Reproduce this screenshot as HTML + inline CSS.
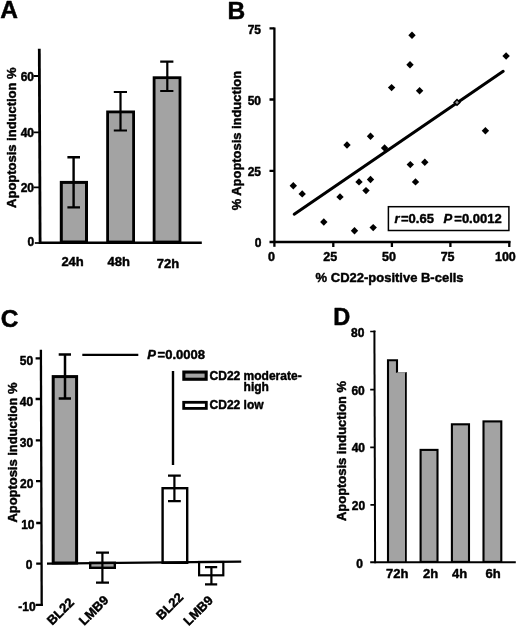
<!DOCTYPE html>
<html><head><meta charset="utf-8"><title>Figure</title>
<style>
html,body{margin:0;padding:0;background:#fff;}
svg{display:block;filter:blur(0.4px);font-family:"Liberation Sans",Arial,sans-serif;font-weight:bold;fill:#000;}
.bar{fill:#a3a3a3;stroke:#000;stroke-width:2.3;}
.wbar{fill:#fff;stroke:#000;stroke-width:2;}
.ax{stroke:#000;stroke-width:2.3;fill:none;stroke-linecap:butt;}
.eb{stroke:#000;stroke-width:2.2;fill:none;}
text{stroke:#000;stroke-width:0.45px;stroke-linejoin:round;}
.t12{font-size:12px;}
.t13{font-size:13px;}
.t125{font-size:12.5px;}
.pl{font-size:24.5px;stroke-width:0.5px;}
</style></head><body>
<svg width="520" height="627" viewBox="0 0 520 627">
<rect width="520" height="627" fill="#fff"/>

<!-- Panel A -->
<text class="pl" x="0.3" y="18.4">A</text>
<g id="pa">
<rect class="bar" x="61.3" y="182.4" width="25.2" height="59.6" style="stroke-width:3"/>
<rect class="bar" x="107.6" y="111.9" width="26" height="130.1" style="stroke-width:2.8"/>
<rect class="bar" x="154.1" y="77.7" width="25.9" height="164.3" style="stroke-width:2.8"/>
<path class="eb" d="M67.4 157.2H80M73.6 157.2V207.4M67.4 207.4H80" style="stroke-width:2.4"/>
<path class="eb" d="M113.8 92H127M120.5 92V130.5M113.8 130.5H127"/>
<path class="eb" d="M160.2 61.7H173.4M167.3 61.7V91M160.2 91H173.4"/>
<path class="ax" d="M39.3 48.7L40.1 244" style="stroke-width:2.8"/>
<path class="ax" d="M39 242.8H201.8" style="stroke-width:2.5"/><path class="ax" d="M34.8 243H40" style="stroke-width:1.7"/>
<path class="ax" d="M33.5 76H39.5M33.5 132.3H39.5M33.5 187.4H39.5" style="stroke-width:1.8"/>
<text class="t12" x="34" y="80.8" text-anchor="end">60</text>
<text class="t12" x="34" y="136.9" text-anchor="end">40</text>
<text class="t12" x="34" y="191.7" text-anchor="end">20</text>
<text class="t12" x="34.2" y="246.3" text-anchor="end">0</text>
<text class="t13" x="72.6" y="266" text-anchor="middle">24h</text>
<text class="t13" x="118.8" y="266.4" text-anchor="middle">48h</text>
<text class="t13" x="167.9" y="267.5" text-anchor="middle">72h</text>
<text class="t13" transform="translate(15.5 207.9) rotate(-90)" textLength="140.5" lengthAdjust="spacingAndGlyphs">Apoptosis induction %</text>
</g>

<!-- Panel B -->
<text class="pl" x="227.6" y="18.8">B</text>
<g id="pb">
<path class="ax" d="M274.4 27.5V246.8"/>
<path class="ax" d="M269.5 242H510.4"/>
<path class="ax" d="M269.5 28.4H274.4M269.5 99.5H274.4M269.5 170.8H274.4"/>
<path class="ax" d="M333.3 241.8V247M391.9 241.8V247M450.4 241.8V247M509.3 241V247"/>
<text class="t12" x="261" y="34" text-anchor="end">75</text>
<text class="t12" x="261" y="105" text-anchor="end">50</text>
<text class="t12" x="261" y="176.3" text-anchor="end">25</text>
<text class="t12" x="261.5" y="247.3" text-anchor="end">0</text>
<text class="t125" x="271.5" y="261.3" text-anchor="middle">0</text>
<text class="t125" x="330.3" y="261.3" text-anchor="middle">25</text>
<text class="t125" x="389" y="261.2" text-anchor="middle">50</text>
<text class="t125" x="447.6" y="260.8" text-anchor="middle">75</text>
<text class="t125" x="505.4" y="260.8" text-anchor="middle">100</text>
<text class="t13" x="315.6" y="282.2" textLength="148" lengthAdjust="spacingAndGlyphs">% CD22-positive B-cells</text>
<text class="t13" transform="translate(240.9 210.3) rotate(-90)" textLength="139.4" lengthAdjust="spacingAndGlyphs">% Apoptosis induction</text>
<path d="M294.2 214.2L503.2 71.3" stroke="#000" stroke-width="3" stroke-linecap="round" fill="none"/>
<g id="pts" fill="#000">
<path id="dm" d="M0 -3.7L3.7 0L0 3.7L-3.7 0Z" transform="translate(293.3 185.7)"/>
<path d="M0 -3.7L3.7 0L0 3.7L-3.7 0Z" transform="translate(302.2 193.9)"/>
<path d="M0 -3.7L3.7 0L0 3.7L-3.7 0Z" transform="translate(323.8 222)"/>
<path d="M0 -3.7L3.7 0L0 3.7L-3.7 0Z" transform="translate(340 196.9)"/>
<path d="M0 -3.7L3.7 0L0 3.7L-3.7 0Z" transform="translate(347 145)"/>
<path d="M0 -3.7L3.7 0L0 3.7L-3.7 0Z" transform="translate(354.5 230.7)"/>
<path d="M0 -3.7L3.7 0L0 3.7L-3.7 0Z" transform="translate(359 181.9)"/>
<path d="M0 -3.7L3.7 0L0 3.7L-3.7 0Z" transform="translate(366 190.6)"/>
<path d="M0 -3.7L3.7 0L0 3.7L-3.7 0Z" transform="translate(370.5 179.5)"/>
<path d="M0 -3.7L3.7 0L0 3.7L-3.7 0Z" transform="translate(370.5 136.3)"/>
<path d="M0 -3.7L3.7 0L0 3.7L-3.7 0Z" transform="translate(373.2 227.6)"/>
<path d="M0 -3.7L3.7 0L0 3.7L-3.7 0Z" transform="translate(384.6 148)"/>
<path d="M0 -3.7L3.7 0L0 3.7L-3.7 0Z" transform="translate(391.6 87.6)"/>
<path d="M0 -3.7L3.7 0L0 3.7L-3.7 0Z" transform="translate(410 64.7)"/>
<path d="M0 -3.7L3.7 0L0 3.7L-3.7 0Z" transform="translate(412 35.3)"/>
<path d="M0 -3.7L3.7 0L0 3.7L-3.7 0Z" transform="translate(410.3 164.6)"/>
<path d="M0 -3.7L3.7 0L0 3.7L-3.7 0Z" transform="translate(415.5 181.9)"/>
<path d="M0 -3.7L3.7 0L0 3.7L-3.7 0Z" transform="translate(419.6 90.7)"/>
<path d="M0 -3.7L3.7 0L0 3.7L-3.7 0Z" transform="translate(424.8 162.2)"/>
<path d="M0 -3.7L3.7 0L0 3.7L-3.7 0Z" transform="translate(485.4 130.7)"/>
<path d="M0 -3.7L3.7 0L0 3.7L-3.7 0Z" transform="translate(506.1 56)"/>
</g>
<path d="M0 -2.9L2.9 0L0 2.9L-2.9 0Z" transform="translate(457 102.4)" fill="#999" stroke="#000" stroke-width="1.5"/>
<rect x="388.4" y="206.7" width="120.5" height="23.8" fill="#fff" stroke="#000" stroke-width="1.5"/>
<text class="t13" x="394.6" y="222.7" font-style="italic">r</text>
<text class="t13" x="401" y="222.7">=0.65</text>
<text class="t13" x="443.6" y="222.7" font-style="italic">P</text>
<text class="t13" x="454.3" y="222.7">=0.0012</text>
</g>

<!-- Panel C -->
<text class="pl" x="0.8" y="327.2">C</text>
<g id="pc">
<rect class="bar" x="53.2" y="376.6" width="23.4" height="186.4" style="stroke-width:3"/>
<rect class="bar" x="90.2" y="562.8" width="24.6" height="5" style="stroke-width:2.4"/>
<rect class="wbar" x="162.6" y="488.2" width="24.6" height="74.6" style="stroke-width:2.4"/>
<rect class="wbar" x="199.1" y="562" width="24.2" height="13.3" style="stroke-width:2.2"/>
<path class="ax" d="M40.9 349.8L41.7 606"/>
<path class="ax" d="M36.2 563.7H42M47 563.6L241.2 561.6"/>
<path class="ax" d="M35.6 358.3H41M35.6 399H41M35.8 440.4H41M36 481.2H41.3M36.2 523H41.5M35.6 604.9H42.8"/>
<path class="eb" d="M58.7 354.4H71M65 354.4V398.5M58.7 398.5H71" style="stroke-width:2.5"/>
<path class="eb" d="M96 552.6H109M102.4 552.6V582.6M96 582.6H109"/>
<path class="eb" d="M168 475.6H180.8M174.4 475.6V501.2M168 501.2H180.8"/>
<path class="eb" d="M205 567.2H217.2M211.4 567.2V584.4M205 584.4H217.2"/>
<path class="eb" d="M82.3 354.9H138.3" style="stroke-width:2.4"/>
<path class="eb" d="M173 371V465" style="stroke-width:2.4"/>
<text class="t12" x="33.2" y="364.5" text-anchor="end">50</text>
<text class="t12" x="33.2" y="405.8" text-anchor="end">40</text>
<text class="t12" x="33.2" y="447" text-anchor="end">30</text>
<text class="t12" x="33.4" y="487.6" text-anchor="end">20</text>
<text class="t12" x="34.5" y="529.2" text-anchor="end">10</text>
<text class="t12" x="32.4" y="569.4" text-anchor="end">0</text>
<text class="t12" x="35.6" y="611" text-anchor="end">-10</text>
<text class="t13" transform="translate(17.1 522.6) rotate(-90)" textLength="140.1" lengthAdjust="spacingAndGlyphs">Apoptosis induction %</text>
<text class="t13" x="147.3" y="358.8" font-style="italic">P</text>
<text class="t13" x="157.6" y="358.8">=0.0008</text>
<rect x="183.85" y="372.05" width="22.3" height="7.2" fill="#a3a3a3" stroke="#000" stroke-width="3.1"/>
<rect x="183.7" y="402.3" width="22.6" height="6.1" fill="#fff" stroke="#000" stroke-width="2.8"/>
<text class="t12" x="209.6" y="379.5">CD22 moderate-</text>
<text class="t12" x="243.6" y="391.2">high</text>
<text class="t12" x="209.6" y="408.7">CD22 low</text>
<text class="t13" transform="translate(52.3 625.8) rotate(-45)">BL22</text>
<text class="t13" transform="translate(84.3 626) rotate(-45)">LMB9</text>
<text class="t13" transform="translate(161.6 620.6) rotate(-45)">BL22</text>
<text class="t13" transform="translate(188.8 626.2) rotate(-45)">LMB9</text>
</g>

<!-- Panel D -->
<text class="pl" x="333.3" y="325.3" style="font-size:23.5px">D</text>
<g id="pd">
<path d="M388 563V360.2H397V372.5H405.8V563Z" fill="#a3a3a3" stroke="none"/>
<path d="M388 563V360.2H397V372.8" class="ax" style="stroke-width:2.1"/>
<path d="M405.9 372V563" class="ax" style="stroke-width:1.8"/>
<path d="M397 372.6H406.6" stroke="#777" stroke-width="0.8" fill="none"/>
<rect class="bar" x="420.6" y="449.9" width="16.9" height="112" style="stroke-width:2.1"/>
<rect class="bar" x="451.9" y="424.3" width="17.1" height="137.6" style="stroke-width:2.1"/>
<rect class="bar" x="483.5" y="421.4" width="17.8" height="140.5" style="stroke-width:2.1"/>
<path class="ax" d="M374.4 330.6L375.1 563.2" style="stroke-width:2"/>
<path class="ax" d="M370.2 562.2H515.8" style="stroke-width:2"/>
<path class="ax" d="M370.2 331.5H375.5M370.2 389.7H374.6M370.2 447.4H374.6M370.4 504.9H374.6" style="stroke-width:1.7"/>
<text class="t12" x="364.4" y="337" text-anchor="end">80</text>
<text class="t12" x="364.8" y="394.6" text-anchor="end">60</text>
<text class="t12" x="365" y="452.2" text-anchor="end">40</text>
<text class="t12" x="365.2" y="510" text-anchor="end">20</text>
<text class="t12" x="363" y="568" text-anchor="end">0</text>
<text class="t13" x="397.2" y="578" text-anchor="middle">72h</text>
<text class="t13" x="430.5" y="578" text-anchor="middle">2h</text>
<text class="t13" x="459.7" y="578" text-anchor="middle">4h</text>
<text class="t13" x="493.2" y="578" text-anchor="middle">6h</text>
<text class="t13" transform="translate(345.8 521) rotate(-90)" textLength="140.1" lengthAdjust="spacingAndGlyphs">Apoptosis induction %</text>
</g>
</svg>
</body></html>
